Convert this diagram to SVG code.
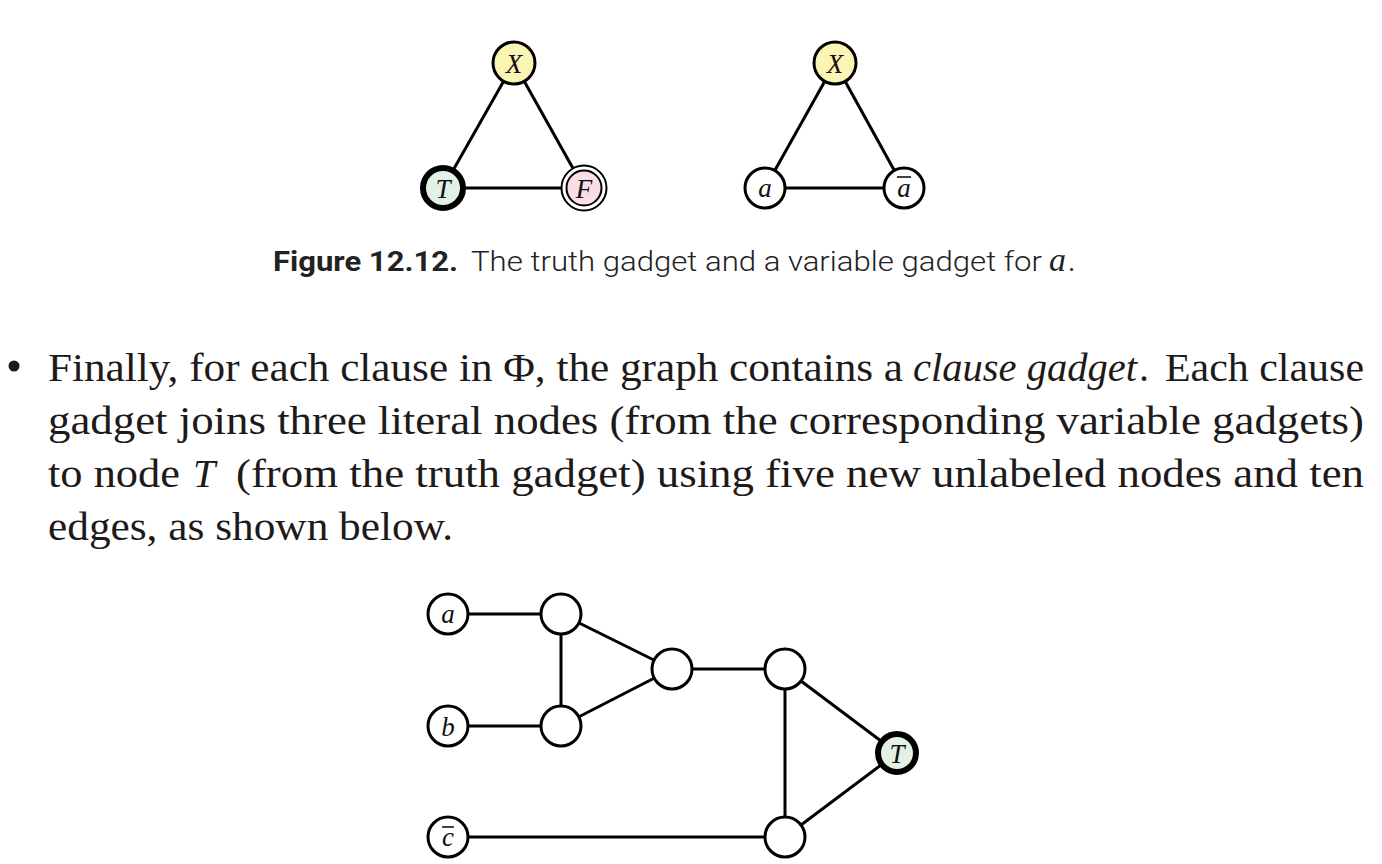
<svg xmlns="http://www.w3.org/2000/svg" width="1382" height="864" viewBox="0 0 1382 864">
<style>
.edge{stroke:#000;stroke-width:3;fill:none}
.node{stroke:#000;stroke-width:3;fill:#fff}
.lbl{font-family:"Liberation Serif","DejaVu Serif",serif;font-style:italic;font-size:27px;fill:#111;text-anchor:middle}
.body{font-family:"Liberation Serif","DejaVu Serif",serif;font-size:40px;fill:#1e1a1a}
.cap{font-family:Roboto,"Liberation Sans",sans-serif;font-size:28px;fill:#222}
.ov{stroke:#111;stroke-width:1.6}
</style>
<rect width="1382" height="864" fill="#fff"/>
<g id="connectors">
<line class="edge" x1="514" y1="63" x2="443" y2="188"/>
<line class="edge" x1="514" y1="63" x2="584" y2="188"/>
<line class="edge" x1="443" y1="188" x2="584" y2="188"/>
<line class="edge" x1="835" y1="63" x2="765" y2="188"/>
<line class="edge" x1="835" y1="63" x2="904" y2="188"/>
<line class="edge" x1="765" y1="188" x2="904" y2="188"/>
<line class="edge" x1="448" y1="614" x2="561" y2="614"/>
<line class="edge" x1="448" y1="726" x2="561" y2="726"/>
<line class="edge" x1="561" y1="614" x2="561" y2="726"/>
<line class="edge" x1="561" y1="614" x2="672" y2="669"/>
<line class="edge" x1="561" y1="726" x2="672" y2="669"/>
<line class="edge" x1="672" y1="669" x2="785" y2="669"/>
<line class="edge" x1="785" y1="669" x2="785" y2="837"/>
<line class="edge" x1="785" y1="669" x2="897" y2="753"/>
<line class="edge" x1="785" y1="837" x2="897" y2="753"/>
<line class="edge" x1="448" y1="837" x2="785" y2="837"/>
</g>
<g id="truth-X"><circle class="node" cx="514" cy="63" r="21" style="fill:#fbf5b4"/><text class="lbl" x="514" y="73">X</text></g>
<g id="truth-T"><circle cx="443" cy="188" r="20" fill="#e3f1e4" stroke="#000" stroke-width="6"/><text class="lbl" x="443" y="198">T</text></g>
<g id="truth-F"><circle cx="584" cy="188" r="22.5" fill="#fff" stroke="#000" stroke-width="2"/><circle cx="584" cy="188" r="17.5" fill="#fadde8" stroke="#000" stroke-width="2"/><text class="lbl" x="584" y="198">F</text></g>
<g id="var-X"><circle class="node" cx="835" cy="63" r="21" style="fill:#fbf5b4"/><text class="lbl" x="835" y="73">X</text></g>
<g id="var-a"><circle class="node" cx="765" cy="188" r="20"/><text class="lbl" x="765" y="197">a</text></g>
<g id="var-abar"><circle class="node" cx="904" cy="188" r="20"/><text class="lbl" x="904" y="197">a</text><line class="ov" x1="897" y1="177" x2="911" y2="177"/></g>
<text class="cap" x="273" y="271" font-weight="bold" textLength="185" lengthAdjust="spacingAndGlyphs">Figure 12.12.</text>
<text class="cap" x="471" y="271" font-weight="300" textLength="571" lengthAdjust="spacingAndGlyphs">The truth gadget and a variable gadget for</text>
<text x="1049" y="271" font-family="Liberation Serif,serif" font-style="italic" font-size="34" fill="#222">a</text>
<text class="cap" x="1068" y="271">.</text>
<circle cx="14" cy="366" r="5.5" fill="#1e1a1a"/>
<text class="body" x="48" y="381" textLength="855" lengthAdjust="spacingAndGlyphs">Finally, for each clause in Φ, the graph contains a</text>
<text class="body" x="913" y="381" font-style="italic" textLength="224" lengthAdjust="spacingAndGlyphs">clause gadget</text>
<text class="body" x="1139" y="381">.</text>
<text class="body" x="1165" y="381" textLength="199" lengthAdjust="spacingAndGlyphs">Each clause</text>
<text class="body" x="48" y="434" textLength="1316" lengthAdjust="spacingAndGlyphs">gadget joins three literal nodes (from the corresponding variable gadgets)</text>
<text class="body" x="48" y="487" textLength="132" lengthAdjust="spacingAndGlyphs">to node</text>
<text class="body" x="193" y="487" font-style="italic">T</text>
<text class="body" x="236" y="487" textLength="1128" lengthAdjust="spacingAndGlyphs">(from the truth gadget) using five new unlabeled nodes and ten</text>
<text class="body" x="48" y="540" textLength="405" lengthAdjust="spacingAndGlyphs">edges, as shown below.</text>
<g id="clause-a"><circle class="node" cx="448" cy="614" r="20"/><text class="lbl" x="448" y="623">a</text></g>
<g id="clause-b"><circle class="node" cx="448" cy="726" r="20"/><text class="lbl" x="448" y="736">b</text></g>
<g id="clause-cbar"><circle class="node" cx="448" cy="837" r="20"/><text class="lbl" x="448" y="846">c</text><line class="ov" x1="442" y1="827" x2="454" y2="827"/></g>
<g id="n1"><circle class="node" cx="561" cy="614" r="20"/></g>
<g id="n2"><circle class="node" cx="561" cy="726" r="20"/></g>
<g id="n3"><circle class="node" cx="672" cy="669" r="20"/></g>
<g id="n4"><circle class="node" cx="785" cy="669" r="20"/></g>
<g id="n5"><circle class="node" cx="785" cy="837" r="20"/></g>
<g id="clause-T"><circle cx="897" cy="753" r="19" fill="#e3f1e4" stroke="#000" stroke-width="6"/><text class="lbl" x="897" y="763">T</text></g>
</svg>
